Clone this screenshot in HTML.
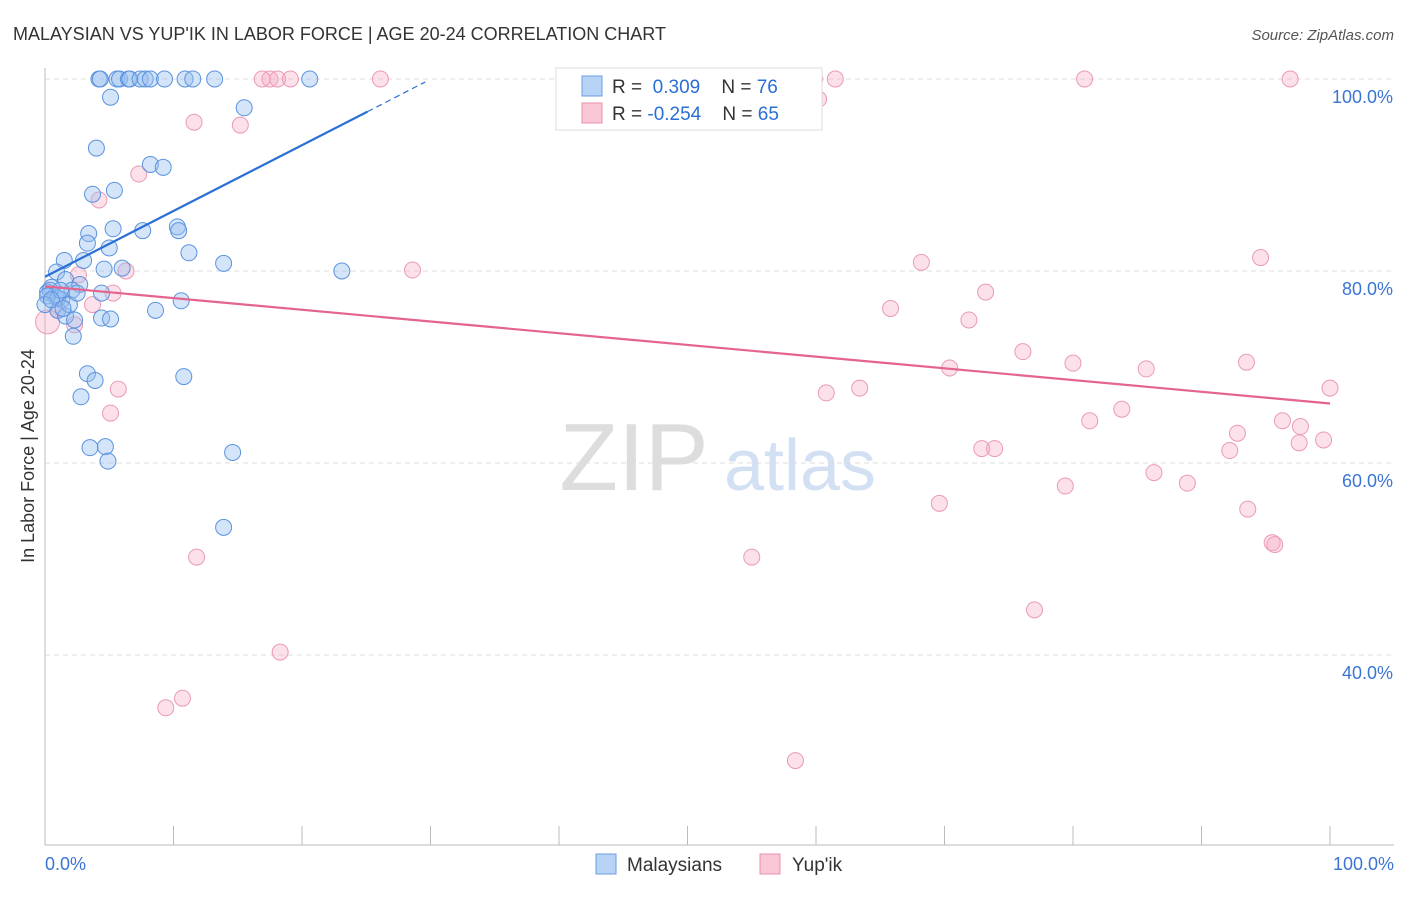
<!DOCTYPE html>
<html><head><meta charset="utf-8"><style>
body{margin:0;background:#fff;font-family:"Liberation Sans",sans-serif}
svg text{font-family:"Liberation Sans",sans-serif}
</style></head><body>
<svg id="chart" width="1406" height="892">
<text x="13" y="40" font-size="18" fill="#333">MALAYSIAN VS YUP'IK IN LABOR FORCE | AGE 20-24 CORRELATION CHART</text>
<text x="1394" y="40" font-size="15" fill="#555" font-style="italic" text-anchor="end">Source: ZipAtlas.com</text>
<g>
<text x="634" y="490" font-size="96" fill="#ddd" font-family="Liberation Serif" text-anchor="middle">ZIP</text>
<text x="800" y="490" font-size="72" fill="#d3e0f3" text-anchor="middle">atlas</text>
</g>
<g id="grid"></g><g id="axes"></g><g id="pts"></g><g id="trend"></g>
<text transform="translate(34,456) rotate(-90)" font-size="18" fill="#333" text-anchor="middle">In Labor Force | Age 20-24</text>
<g>
<rect x="556" y="68" width="266" height="62" fill="#fff" stroke="#ddd"/>
<rect x="582" y="76" width="20" height="20" fill="#b7d3f5" stroke="#6a9de0"/>
<text x="612" y="93" font-size="19" fill="#333">R = <tspan fill="#2a6fd6">&#160;0.309</tspan>&#160;&#160;&#160;&#160;N = <tspan fill="#2a6fd6">76</tspan></text>
<rect x="582" y="103" width="20" height="20" fill="#f8c6d4" stroke="#e890aa"/>
<text x="612" y="120" font-size="19" fill="#333">R = <tspan fill="#2a6fd6">-0.254</tspan>&#160;&#160;&#160;&#160;N = <tspan fill="#2a6fd6">65</tspan></text>
</g>
<g>
<rect x="596" y="854" width="20" height="20" fill="#b7d3f5" stroke="#6a9de0"/>
<text x="627" y="871" font-size="19" fill="#333">Malaysians</text>
<rect x="760" y="854" width="20" height="20" fill="#f8c6d4" stroke="#e890aa"/>
<text x="792" y="871" font-size="19" fill="#333">Yup'ik</text>
</g>
</svg>
<script>
const yTicks=[40,60,80,100];
const yTickLabels=["40.0%","60.0%","80.0%","100.0%"];
const xTickLabels=["0.0%","100.0%"];
const blueX=[4.2,4.3,5.6,5.8,6.5,6.6,7.4,7.8,8.2,9.3,10.9,11.5,13.2,20.6,5.1,15.5,4.0,8.2,9.2,3.7,5.4,3.4,5.3,7.6,10.3,10.4,3.3,5.0,11.2,13.9,1.5,3.0,4.6,6.0,23.1,0.9,1.6,2.7,0.5,0.2,0.8,0.4,2.1,1.3,4.4,10.6,8.6,1.0,1.6,2.3,4.4,5.1,2.2,3.3,3.9,10.8,2.8,3.5,4.7,4.9,14.6,13.9,0.2,1.0,0,1.9,1.2,2.5,0.5,1.4];
const blueY=[100,100,100,100,100,100,100,100,100,100,100,100,100,100,98.1,97.0,92.8,91.1,90.8,88.0,88.4,83.9,84.4,84.2,84.6,84.2,82.9,82.4,81.9,80.8,81.1,81.1,80.2,80.3,80.0,79.9,79.1,78.6,78.3,77.8,77.4,78.0,78.0,77.0,77.7,76.9,75.9,75.9,75.3,74.9,75.1,75.0,73.2,69.3,68.6,69.0,66.9,61.6,61.7,60.2,61.1,53.3,77.4,77.2,76.5,76.5,78.0,77.7,77.0,76.1];
const pinkX=[17.5,18.1,16.9,19.1,26.1,49.8,59.9,61.5,80.9,96.9,60.2,11.6,15.2,7.3,4.2,6.3,28.6,2.6,5.3,3.7,1.0,2.3,0.2,5.7,5.1,11.8,18.3,9.4,10.7,68.2,94.6,65.8,73.2,71.9,76.1,70.4,80.0,85.7,93.5,100,63.4,60.8,83.8,81.3,96.3,97.7,92.8,99.5,97.6,72.9,73.9,92.2,86.3,79.4,88.9,69.6,93.6,95.5,95.7,55.0,77.0,58.4];
const pinkY=[100,100,100,100,100,100,100,100,100,100,97.9,95.5,95.2,90.1,87.4,80.0,80.1,79.6,77.7,76.5,75.9,74.4,74.7,67.7,65.2,50.2,40.3,34.5,35.5,80.9,81.4,76.1,77.8,74.9,71.6,69.9,70.4,69.8,70.5,67.8,67.8,67.3,65.6,64.4,64.4,63.8,63.1,62.4,62.1,61.5,61.5,61.3,59.0,57.6,57.9,55.8,55.2,51.7,51.5,50.2,44.7,29.0];
const blueTrend=[[0,79.4],[25.1,96.6],[29.6,99.7]];
const pinkTrend=[[0,78.4],[100,66.2]];
const NS="http://www.w3.org/2000/svg";
const sx=v=>45+v*12.85, sy=v=>79+(100-v)*9.6;
function mk(tag,attrs,parent){const e=document.createElementNS(NS,tag);for(const k in attrs)e.setAttribute(k,attrs[k]);parent.appendChild(e);return e;}
const grid=document.getElementById('grid'),axes=document.getElementById('axes'),pts=document.getElementById('pts'),tr=document.getElementById('trend');
yTicks.forEach((t,i)=>{
 const l=mk('line',{x1:45,x2:1394,y1:sy(t),y2:sy(t),stroke:'#ddd','stroke-dasharray':'5,4'},grid);
 
 
 const tx=mk('text',{x:1393,y:sy(t)+24,'font-size':18,fill:'#3a74d4','text-anchor':'end'},axes);
 tx.textContent=yTickLabels[i];
 
 
});
const ya=mk('line',{x1:45,x2:45,y1:68,y2:845,stroke:'#bbb'},axes);


const xa=mk('line',{x1:45,x2:1394,y1:845,y2:845,stroke:'#bbb'},axes);


for(let i=0;i<=10;i++){const t=mk('line',{x1:sx(i*10),x2:sx(i*10),y1:826,y2:845,stroke:'#bbb'},axes);
 
 }
[[0,'start',45],[100,'end',1394]].forEach((a,i)=>{const t=mk('text',{x:a[2],y:870,'font-size':18,fill:'#3a74d4','text-anchor':a[1]},axes);t.textContent=xTickLabels[i];
 
 });
pinkX.forEach((x,i)=>{const c=mk('circle',{cx:sx(x),cy:sy(pinkY[i]),r:i==22?12:8,fill:'rgba(246,170,195,0.35)',stroke:'#eb9ab4','stroke-width':1},pts);
 
 });
blueX.forEach((x,i)=>{const c=mk('circle',{cx:sx(x),cy:sy(blueY[i]),r:8,fill:'rgba(150,190,240,0.4)',stroke:'#5b93de','stroke-width':1},pts);
 
 });
const b1=mk('line',{x1:sx(blueTrend[0][0]),y1:sy(blueTrend[0][1]),x2:sx(blueTrend[1][0]),y2:sy(blueTrend[1][1]),stroke:'#2a6fd6','stroke-width':2.2},tr);


const b2=mk('line',{x1:sx(blueTrend[1][0]),y1:sy(blueTrend[1][1]),x2:sx(blueTrend[2][0]),y2:sy(blueTrend[2][1]),stroke:'#2a6fd6','stroke-width':1.2,'stroke-dasharray':'6,4'},tr);


const p1=mk('line',{x1:sx(pinkTrend[0][0]),y1:sy(pinkTrend[0][1]),x2:sx(pinkTrend[1][0]),y2:sy(pinkTrend[1][1]),stroke:'#e4648e','stroke-width':2.2},tr);


</script>
</body></html>
